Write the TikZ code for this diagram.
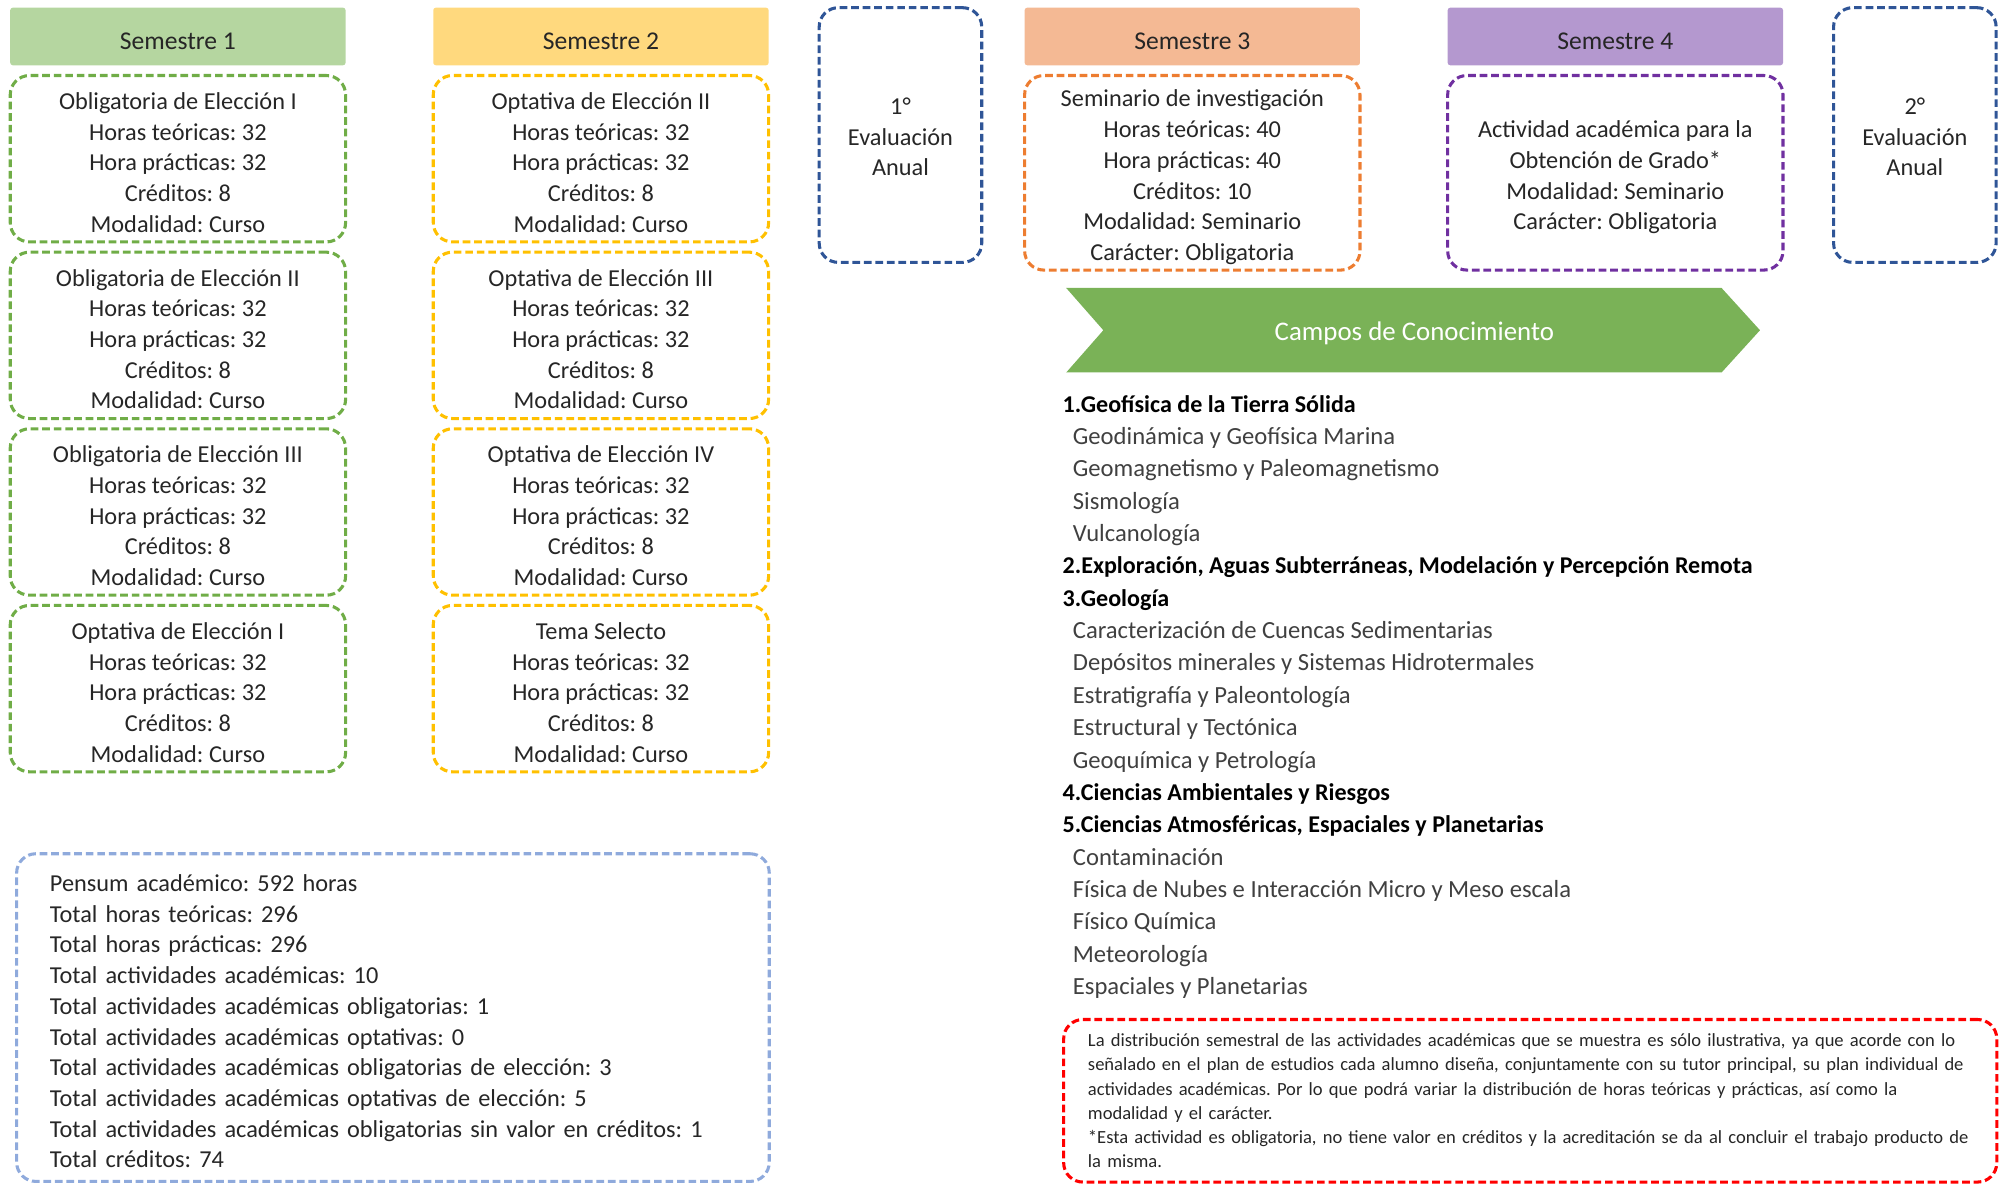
\documentclass[tikz,border=0pt]{standalone}
\usepackage{fontspec}
\setmainfont{Carlito}
\frenchspacing
\definecolor{txt}{HTML}{262626}
\definecolor{subtxt}{HTML}{404040}
\definecolor{hgreen}{HTML}{B5D6A0}
\definecolor{hyellow}{HTML}{FFD97E}
\definecolor{horange}{HTML}{F4B994}
\definecolor{hpurple}{HTML}{B498CF}
\definecolor{bgreen}{HTML}{70AD47}
\definecolor{byellow}{HTML}{FFC000}
\definecolor{borange}{HTML}{ED7D31}
\definecolor{bpurple}{HTML}{7030A0}
\definecolor{bnavy}{HTML}{2F5597}
\definecolor{blight}{HTML}{8FAADC}
\definecolor{bred}{HTML}{FF0000}
\definecolor{arrowgreen}{HTML}{7AB257}
\begin{document}
\begin{tikzpicture}[x=1pt,y=-1pt,
  hdr/.style={rectangle, rounded corners=2pt, minimum width=262pt, minimum height=45pt, inner sep=0pt, text=txt, font=\fontsize{20}{24}\selectfont, text height=19.9pt, text depth=0pt},
  dashline/.style={draw=#1, line width=2.4pt, dash pattern=on 6pt off 3pt, rounded corners=15pt, inner sep=0pt},
  dashbox/.style={dashline=#1, align=center, text=txt, font=\fontsize{19}{24}\selectfont, text depth=0pt},
  course/.style={dashbox=#1, minimum width=262pt, minimum height=130pt, text height=115pt},
  evalbox/.style={dashbox=bnavy, minimum width=127pt, minimum height=199pt, text height=64pt},
  upper/.style={dashbox=#1, minimum width=262pt, minimum height=152pt},
  headline/.style={anchor=base west, inner sep=0pt, text=black, font=\fontsize{18.8}{24}\selectfont\bfseries},
  subline/.style={anchor=base west, inner sep=0pt, text=subtxt, font=\fontsize{19.25}{24}\selectfont}
]
\useasboundingbox (0,0) rectangle (1568,926);

% Headers
\node[hdr, fill=hgreen] (h1) at (139,28.5) {Semestre 1};
\node[hdr, fill=hyellow] (h2) at (469.5,28.5) {Semestre 2};
\node[hdr, fill=horange] (h3) at (931.5,28.5) {Semestre 3};
\node[hdr, fill=hpurple] (h4) at (1262,28.5) {Semestre 4};

% Semestre 1
\node[course=bgreen] (a1) at (139,124) {Obligatoria de Elección I\\Horas teóricas: 32\\Hora prácticas: 32\\Créditos: 8\\Modalidad: Curso};
\node[course=bgreen] (a2) at (139,262) {Obligatoria de Elección II\\Horas teóricas: 32\\Hora prácticas: 32\\Créditos: 8\\Modalidad: Curso};
\node[course=bgreen] (a3) at (139,400) {Obligatoria de Elección III\\Horas teóricas: 32\\Hora prácticas: 32\\Créditos: 8\\Modalidad: Curso};
\node[course=bgreen] (a4) at (139,538) {Optativa de Elección I\\Horas teóricas: 32\\Hora prácticas: 32\\Créditos: 8\\Modalidad: Curso};

% Semestre 2
\node[course=byellow] (b1) at (469.5,124) {Optativa de Elección II\\Horas teóricas: 32\\Hora prácticas: 32\\Créditos: 8\\Modalidad: Curso};
\node[course=byellow] (b2) at (469.5,262) {Optativa de Elección III\\Horas teóricas: 32\\Hora prácticas: 32\\Créditos: 8\\Modalidad: Curso};
\node[course=byellow] (b3) at (469.5,400) {Optativa de Elección IV\\Horas teóricas: 32\\Hora prácticas: 32\\Créditos: 8\\Modalidad: Curso};
\node[course=byellow] (b4) at (469.5,538) {Tema Selecto\\Horas teóricas: 32\\Hora prácticas: 32\\Créditos: 8\\Modalidad: Curso};

% Evaluaciones
\node[evalbox] (e1) at (703.5,105.5) {1°\\Evaluación\\Anual};
\node[evalbox] (e2) at (1496,105.5) {2°\\Evaluación\\Anual};

% Semestre 3 y 4
\node[upper=borange, text height=137pt] (c1) at (931.5,135) {Seminario de investigación\\Horas teóricas: 40\\Hora prácticas: 40\\Créditos: 10\\Modalidad: Seminario\\Carácter: Obligatoria};
\node[upper=bpurple, text height=89pt] (d1) at (1262,135) {Actividad académica para la\\Obtención de Grado*\\Modalidad: Seminario\\Carácter: Obligatoria};

% Campos arrow
\fill[arrowgreen] (833,225) -- (1345,225) -- (1375,258) -- (1345,291) -- (833,291) -- (862,258) -- cycle;
\node[text=white, font=\fontsize{21}{25}\selectfont, inner sep=0pt, text height=15.6pt, text depth=0pt] (campos) at (1105,258) {Campos de Conocimiento};

% Lista
\node[headline] (l1) at (830,322) {1.Geofísica de la Tierra Sólida};
\node[subline] (l2) at (838,347.3) {Geodinámica y Geofísica Marina};
\node[subline] (l3) at (838,372.6) {Geomagnetismo y Paleomagnetismo};
\node[subline] (l4) at (838,397.8) {Sismología};
\node[subline] (l5) at (838,423.1) {Vulcanología};
\node[headline] (l6) at (830,448.4) {2.Exploración, Aguas Subterráneas, Modelación y Percepción Remota};
\node[headline] (l7) at (830,473.7) {3.Geología};
\node[subline] (l8) at (838,499.0) {Caracterización de Cuencas Sedimentarias};
\node[subline] (l9) at (838,524.2) {Depósitos minerales y Sistemas Hidrotermales};
\node[subline] (l10) at (838,549.5) {Estratigrafía y Paleontología};
\node[subline] (l11) at (838,574.8) {Estructural y Tectónica};
\node[subline] (l12) at (838,600.1) {Geoquímica y Petrología};
\node[headline] (l13) at (830,625.4) {4.Ciencias Ambientales y Riesgos};
\node[headline] (l14) at (830,650.6) {5.Ciencias Atmosféricas, Espaciales y Planetarias};
\node[subline] (l15) at (838,675.9) {Contaminación};
\node[subline] (l16) at (838,701.2) {Física de Nubes e Interacción Micro y Meso escala};
\node[subline] (l17) at (838,726.5) {Físico Química};
\node[subline] (l18) at (838,751.8) {Meteorología};
\node[subline] (l19) at (838,777.0) {Espaciales y Planetarias};

% Resumen
\node[dashbox=blight, minimum height=256pt, text width=536pt, inner xsep=26pt, align=left, text height=0pt, text depth=197pt] (sum) at (307,795)
{Pensum académico: 592 horas\\
Total horas teóricas: 296\\
Total horas prácticas: 296\\
Total actividades académicas: 10\\
Total actividades académicas obligatorias: 1\\
Total actividades académicas optativas: 0\\
Total actividades académicas obligatorias de elección: 3\\
Total actividades académicas optativas de elección: 5\\
Total actividades académicas obligatorias sin valor en créditos: 1\\
Total créditos: 74};

% Nota
\node[dashline=bred, minimum height=127pt, text width=691pt, inner xsep=19pt, align=left, text=txt, font=\fontsize{14.5}{19}\selectfont] (nota) at (1195.5,860)
{La distribución semestral de las actividades académicas que se muestra es sólo ilustrativa, ya que acorde con lo\\
señalado en el plan de estudios cada alumno diseña, conjuntamente con su tutor principal, su plan individual de\\
actividades académicas. Por lo que podrá variar la distribución de horas teóricas y prácticas, así como la\\
modalidad y el carácter.\\
{*}Esta actividad es obligatoria, no tiene valor en créditos y la acreditación se da al concluir el trabajo producto de\\
la misma.};
\end{tikzpicture}
\end{document}
